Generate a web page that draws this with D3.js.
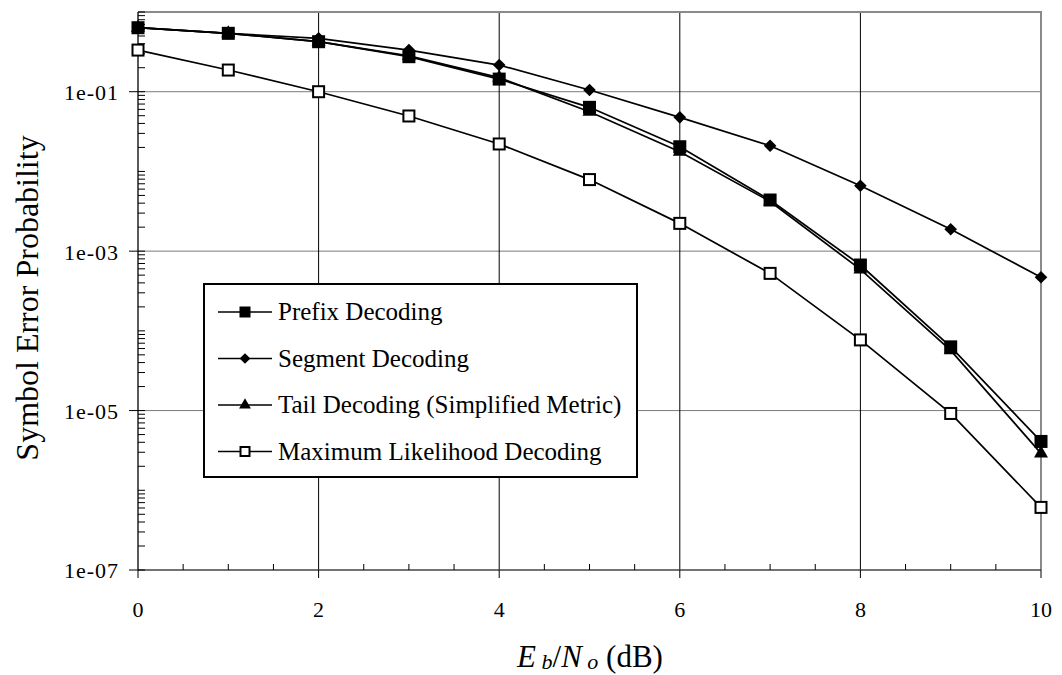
<!DOCTYPE html>
<html>
<head>
<meta charset="utf-8">
<script src="https://cdn.jsdelivr.net/npm/d3@7"></script>
<style>
  body { margin: 0; background: #fff; }
  text { font-family: "Liberation Serif", "Times New Roman", serif; fill: #000; }
</style>
</head>
<body>
<div id="chart"></div>
<script>
// Eb/No in dB
var snr = [0, 1, 2, 3, 4, 5, 6, 7, 8, 9, 10];

// symbol error probability
var prefixSer  = [0.635, 0.54, 0.424, 0.275, 0.144, 0.0637, 0.0204, 0.00438, 6.7e-4, 6.3e-5, 4.1e-6];
var segmentSer = [0.635, 0.54, 0.468, 0.333, 0.216, 0.105, 0.0477, 0.021, 0.0066, 0.00188, 4.7e-4];
var tailSer    = [0.635, 0.54, 0.424, 0.282, 0.15, 0.056, 0.0177, 0.0042, 5.9e-4, 5.7e-5, 2.9e-6];
var mlSer      = [0.333, 0.187, 0.1, 0.0496, 0.0221, 0.0079, 0.00223, 5.26e-4, 7.7e-5, 9.2e-6, 6.1e-7];

var seriesNames = ["Prefix Decoding", "Segment Decoding", "Tail Decoding (Simplified Metric)", "Maximum Likelihood Decoding"];
var seriesMarks = ["square", "diamond", "triangle", "open"];
var xTicks = [0, 2, 4, 6, 8, 10];
var yLabelTicks = [1e-1, 1e-3, 1e-5, 1e-7];

var width = 1062, height = 675;
var margin = {top: 12, right: 21, bottom: 105, left: 138};

var svg = d3.select("#chart").append("svg")
    .attr("width", width)
    .attr("height", height);

var x = d3.scaleLinear().domain([0, 10]).range([margin.left, width - margin.right]);
var y = d3.scaleLog().domain([1e-7, 1]).range([height - margin.bottom, margin.top]);

var x0 = x.range()[0], x1 = x.range()[1];
var y0 = y.range()[0], y1 = y.range()[1];

// horizontal grid (every second decade)
svg.append("g").selectAll("line")
    .data([1e-1, 1e-3, 1e-5])
    .enter().append("line")
    .attr("x1", x0).attr("x2", x1)
    .attr("y1", d => y(d)).attr("y2", d => y(d))
    .attr("stroke", "#7a7a7a").attr("stroke-width", 1);

// vertical grid
svg.append("g").selectAll("line")
    .data([2, 4, 6, 8])
    .enter().append("line")
    .attr("x1", d => x(d)).attr("x2", d => x(d))
    .attr("y1", y1).attr("y2", y0)
    .attr("stroke", "#000").attr("stroke-width", 1);

// frame (top and right)
svg.append("path")
    .attr("d", "M" + x0 + "," + y1 + "H" + x1 + "V" + y0)
    .attr("fill", "none")
    .attr("stroke", "#8a8a8a")
    .attr("stroke-width", 2);

// x axis: major ticks outside, minor ticks inside
var xAxis = svg.append("g").attr("transform", "translate(0," + y0 + ")");
xAxis.append("line").attr("x1", x0).attr("x2", x1).attr("stroke", "#444").attr("stroke-width", 1.5);
xAxis.selectAll(".major").data(xTicks).enter().append("line")
    .attr("x1", d => x(d)).attr("x2", d => x(d)).attr("y1", 0).attr("y2", 8)
    .attr("stroke", "#000");
xAxis.selectAll(".minor").data(d3.range(0.5, 10, 0.5).filter(d => d % 2 !== 0)).enter().append("line")
    .attr("x1", d => x(d)).attr("x2", d => x(d)).attr("y1", 0).attr("y2", -6)
    .attr("stroke", "#000");
xAxis.selectAll("text").data(xTicks).enter().append("text")
    .attr("x", d => x(d)).attr("y", 47)
    .attr("text-anchor", "middle")
    .style("font-size", "22px")
    .text(d => d);

// y axis: log minor ticks inside, labelled decades outside
var yAxis = svg.append("g").attr("transform", "translate(" + x0 + ",0)");
yAxis.append("line").attr("y1", y1).attr("y2", y0).attr("stroke", "#222").attr("stroke-width", 1.5);
yAxis.selectAll(".minor").data(y.ticks()).enter().append("line")
    .attr("y1", d => y(d)).attr("y2", d => y(d)).attr("x1", 0).attr("x2", 7)
    .attr("stroke", "#000");
yAxis.selectAll(".major").data(yLabelTicks).enter().append("line")
    .attr("y1", d => y(d)).attr("y2", d => y(d)).attr("x1", -9).attr("x2", 0)
    .attr("stroke", "#000");
yAxis.selectAll("text").data(yLabelTicks).enter().append("text")
    .attr("x", -20).attr("y", d => y(d))
    .attr("dy", "0.38em")
    .attr("text-anchor", "end")
    .style("font-size", "22px")
    .attr("textLength", 54)
    .attr("lengthAdjust", "spacing")
    .text(d => d3.format(".0e")(d).replace(/e-(\d)$/, "e-0$1"));

// titles
svg.append("text")
    .attr("transform", "translate(38,298) rotate(-90)")
    .attr("text-anchor", "middle")
    .style("font-size", "32px")
    .text("Symbol Error Probability");

var xt = svg.append("text")
    .attr("x", 590).attr("y", 667)
    .attr("text-anchor", "middle")
    .style("font-size", "31px");
xt.append("tspan").style("font-style", "italic").text("E");
xt.append("tspan").attr("dy", 2).style("font-size", "22px").style("font-style", "italic").text(" b");
xt.append("tspan").attr("dy", -2).text("/");
xt.append("tspan").style("font-style", "italic").text("N");
xt.append("tspan").attr("dy", 2).style("font-size", "22px").style("font-style", "italic").text(" o");
xt.append("tspan").attr("dy", -2).text(" (dB)");

// markers
function drawMarker(g, kind, s) {
    if (kind === "square") {
        g.append("rect").attr("x", -s / 2).attr("y", -s / 2).attr("width", s).attr("height", s).attr("fill", "#000");
    } else if (kind === "diamond") {
        g.append("path").attr("d", d3.symbol().type(d3.symbolDiamond2).size(s * s * 0.6)()).attr("fill", "#000");
    } else if (kind === "triangle") {
        g.append("path").attr("d", d3.symbol().type(d3.symbolTriangle).size(s * s * 0.5)()).attr("fill", "#000");
    } else {
        var o = s - 2;
        g.append("rect").attr("x", -o / 2).attr("y", -o / 2).attr("width", o).attr("height", o)
            .attr("fill", "#fff").attr("stroke", "#000").attr("stroke-width", 2);
    }
}

var allSeries = [prefixSer, segmentSer, tailSer, mlSer];
var markSize = [13, 13, 13, 13];
var line = d3.line().x((d, i) => x(snr[i])).y(d => y(d));

// draw bottom series first so prefix sits on top
[3, 2, 1, 0].forEach(function(k) {
    var vals = allSeries[k];
    svg.append("path")
        .datum(vals)
        .attr("d", line)
        .attr("fill", "none")
        .attr("stroke", "#000")
        .attr("stroke-width", 1.7);
    vals.forEach(function(v, i) {
        var g = svg.append("g").attr("transform", "translate(" + x(snr[i]) + "," + y(v) + ")");
        drawMarker(g, seriesMarks[k], markSize[k]);
    });
});

// legend
var legend = svg.append("g").attr("transform", "translate(204,284)");
legend.append("rect")
    .attr("width", 433).attr("height", 193)
    .attr("fill", "#fff").attr("stroke", "#000").attr("stroke-width", 2);
var rows = legend.selectAll(".row").data(seriesNames).enter().append("g")
    .attr("transform", (d, i) => "translate(0," + (28 + i * 46.5) + ")");
rows.append("line").attr("x1", 14).attr("x2", 68).attr("stroke", "#000").attr("stroke-width", 1.7);
rows.each(function(d, i) {
    var g = d3.select(this).append("g").attr("transform", "translate(41,0)");
    drawMarker(g, seriesMarks[i], 11);
});
rows.append("text")
    .attr("x", 74).attr("dy", "0.33em")
    .style("font-size", "25px")
    .text(d => d);
</script>
</body>
</html>
